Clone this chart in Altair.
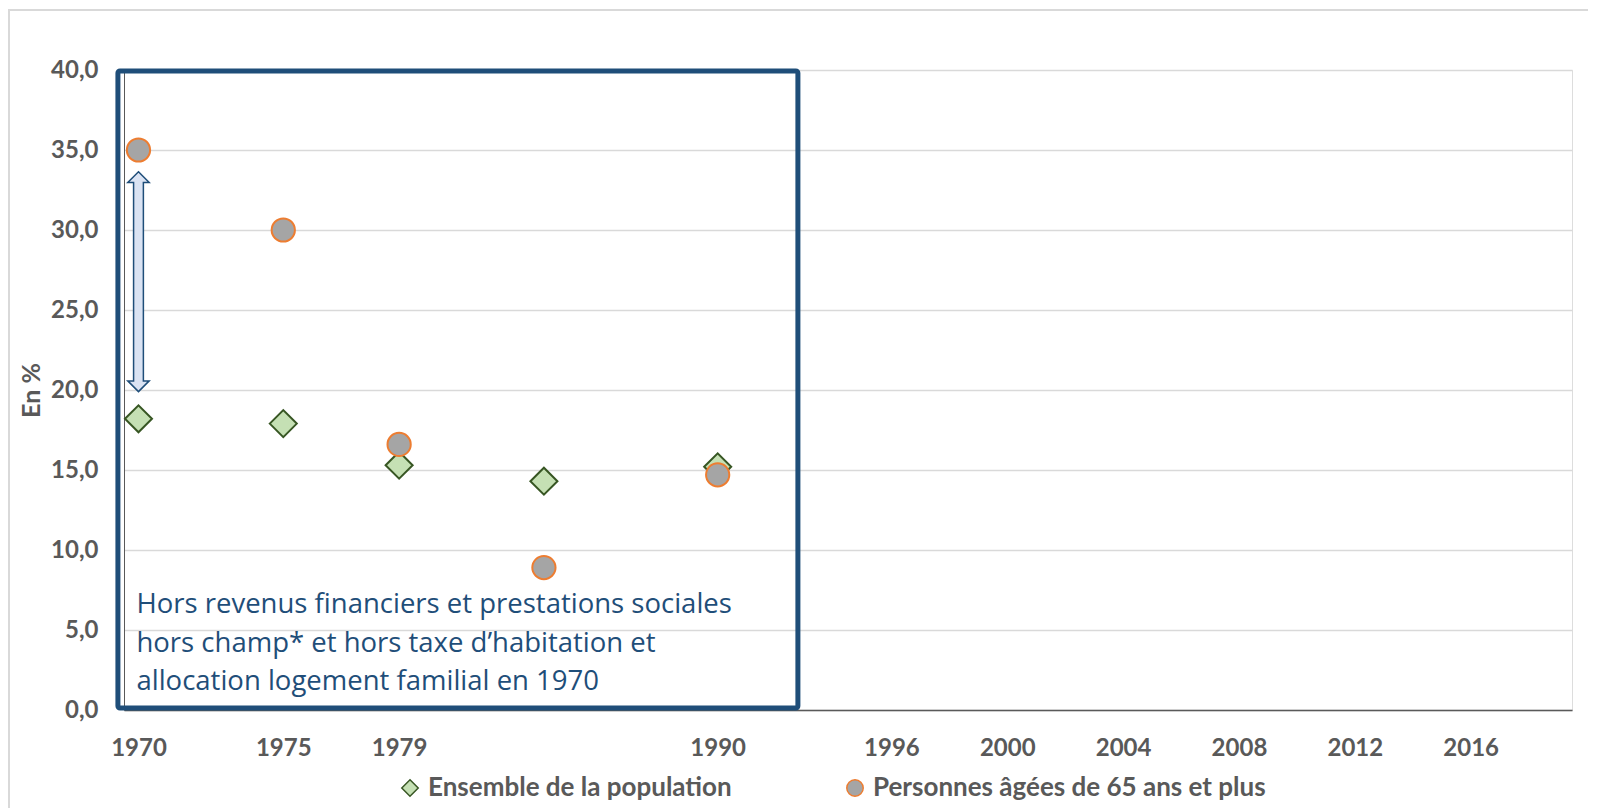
import altair as alt
import pandas as pd

# ---------------- data ----------------
years = [1970, 1975, 1979, 1984, 1990]
ensemble = [18.2, 17.9, 15.3, 14.3, 15.2]
personnes = [35.0, 30.0, 16.6, 8.9, 14.7]
series_names = ["Ensemble de la population", "Personnes âgées de 65 ans et plus"]

x_tick_labels = [1970, 1975, 1979, 1990, 1996, 2000, 2004, 2008, 2012, 2016]
y_ticks = [0, 5, 10, 15, 20, 25, 30, 35, 40]
x_domain = [1969.5, 2019.5]
y_domain = [0, 40]

box_x = [1969.29, 1992.77]
box_y = [0.12, 39.94]

arrow_year = [1970]
arrow_tips = [19.9, 33.64]          # bottom tip, top tip

note_lines = [
    "Hors revenus financiers et prestations sociales",
    "hors champ* et hors taxe d\u2019habitation et",
    "allocation logement familial en 1970",
]
note_anchor = [1969.93, 6.05]

# ---------------- styles ----------------
FONT = "Lato"
NOTE_FONT = "Open Sans"
GRAY = "#595959"
BLUE = "#1F4E79"
LIGHTBLUE = "#DAE3F3"

df = pd.DataFrame({
    "annee": years * 2,
    "valeur": ensemble + personnes,
    "serie": [series_names[0]] * len(years) + [series_names[1]] * len(years),
})

xs = alt.Scale(domain=x_domain, nice=False, zero=False)
ys = alt.Scale(domain=y_domain, nice=False, zero=True)

legend = alt.Legend(
    title=None, orient="none", legendX=273, legendY=705, direction="horizontal",
    columnPadding=110, symbolSize=270, symbolStrokeWidth=1.5,
    labelFont=FONT, labelFontSize=26, labelFontWeight="bold", labelColor=GRAY,
    labelOffset=5, padding=0, labelLimit=0,
)

shape_enc = alt.Shape("serie:N", scale=alt.Scale(domain=series_names, range=["diamond", "circle"]), legend=legend)
fill_enc = alt.Fill("serie:N", scale=alt.Scale(domain=series_names, range=["#C5E0B4", "#A5A5A5"]), legend=legend)
stroke_enc = alt.Stroke("serie:N", scale=alt.Scale(domain=series_names, range=["#375623", "#ED7D31"]), legend=legend)

x_enc = alt.X("annee:Q", scale=xs, axis=alt.Axis(
    values=x_tick_labels, format="d", title=None, grid=False, ticks=False,
    domainColor=GRAY, domainWidth=1.5, labelFont=FONT, labelFontSize=24,
    labelFontWeight="bold", labelColor=GRAY, labelPadding=26, labelFlush=False))
y_enc = alt.Y("valeur:Q", scale=ys, axis=alt.Axis(
    values=y_ticks, title="En %", labelExpr="replace(format(datum.value, '.1f'), '.', ',')",
    grid=True, gridColor="#D9D9D9", gridWidth=1.5, ticks=False,
    domainColor=GRAY, domainWidth=1, labelFont=FONT, labelFontSize=24,
    labelFontWeight="bold", labelColor=GRAY, labelPadding=26,
    titleFont=FONT, titleFontSize=25, titleFontWeight="bold", titleColor=GRAY,
    titleX=-93, titleY=320, titleAngle=-90, titleAlign="center", titleBaseline="middle"))

# outer light border (decoration)
border_left = alt.Chart(pd.DataFrame({"a": [0]})).mark_rule(color="#D9D9D9", strokeWidth=2).encode(
    x=alt.value(-115), y=alt.value(-60), y2=alt.value(750))
border_top = alt.Chart(pd.DataFrame({"a": [0]})).mark_rule(color="#D9D9D9", strokeWidth=2).encode(
    x=alt.value(-116), x2=alt.value(1500), y=alt.value(-60))

# framed box
box_df = pd.DataFrame({"x": [box_x[0]], "x2": [box_x[1]], "y": [box_y[0]], "y2": [box_y[1]]})
box = alt.Chart(box_df).mark_rect(fillOpacity=0, stroke=BLUE, strokeWidth=5, cornerRadius=2).encode(
    x=alt.X("x:Q", scale=xs), x2="x2:Q", y=alt.Y("y:Q", scale=ys), y2="y2:Q")

# double arrow
head_units = 0.66
arr_df = pd.DataFrame({"x": arrow_year, "lo": [arrow_tips[0]], "hi": [arrow_tips[1]]})
arr_df["lo_d"] = arr_df["lo"] + head_units * 0.95
arr_df["hi_d"] = arr_df["hi"] - head_units * 1.05
arr_df["lo_l"] = arr_df["lo_d"] - 0.12
arr_df["hi_l"] = arr_df["hi_d"] + 0.12
shaft_dark = alt.Chart(arr_df).mark_rule(color=BLUE, strokeWidth=11.3).encode(
    x=alt.X("x:Q", scale=xs), y=alt.Y("lo_d:Q", scale=ys), y2="hi_d:Q")
head_up = alt.Chart(arr_df).mark_point(shape="M0,0L1,1L-1,1Z", size=458, filled=True,
    fill=LIGHTBLUE, stroke=BLUE, strokeWidth=1.5, opacity=1).encode(
    x=alt.X("x:Q", scale=xs), y=alt.Y("hi:Q", scale=ys))
head_dn = alt.Chart(arr_df).mark_point(shape="M0,0L1,-1L-1,-1Z", size=458, filled=True,
    fill=LIGHTBLUE, stroke=BLUE, strokeWidth=1.5, opacity=1).encode(
    x=alt.X("x:Q", scale=xs), y=alt.Y("lo:Q", scale=ys))
shaft_light = alt.Chart(arr_df).mark_rule(color=LIGHTBLUE, strokeWidth=8.3).encode(
    x=alt.X("x:Q", scale=xs), y=alt.Y("lo_l:Q", scale=ys), y2="hi_l:Q")

# points
base = alt.Chart(df)
diamonds = base.transform_filter(alt.datum.serie == series_names[0]).mark_point(
    filled=True, size=730, strokeWidth=2, opacity=1).encode(
    x=x_enc, y=y_enc, shape=shape_enc, fill=fill_enc, stroke=stroke_enc)
circles = base.transform_filter(alt.datum.serie == series_names[1]).mark_point(
    filled=True, size=540, strokeWidth=2, opacity=1).encode(
    x=alt.X("annee:Q", scale=xs), y=alt.Y("valeur:Q", scale=ys),
    shape=shape_enc, fill=fill_enc, stroke=stroke_enc)

# note text
note_df = pd.DataFrame({"x": [note_anchor[0]], "y": [note_anchor[1]]})
note = alt.Chart(note_df).mark_text(text=note_lines, align="left", baseline="alphabetic",
    lineHeight=38.5, fontSize=27.5, font=NOTE_FONT, color=BLUE).encode(
    x=alt.X("x:Q", scale=xs), y=alt.Y("y:Q", scale=ys))

chart = alt.layer(
    diamonds, border_left, border_top, box, shaft_dark, head_up, head_dn, shaft_light,
    circles, note,
).properties(
    width=1448, height=640,
    padding={"left": 116, "top": 62, "right": 16, "bottom": 98},
    autosize=alt.AutoSizeParams(type="none"),
).configure_view(strokeWidth=0).configure(background="white")

chart.save("out.html", embed_options={"renderer": "svg", "actions": False})
